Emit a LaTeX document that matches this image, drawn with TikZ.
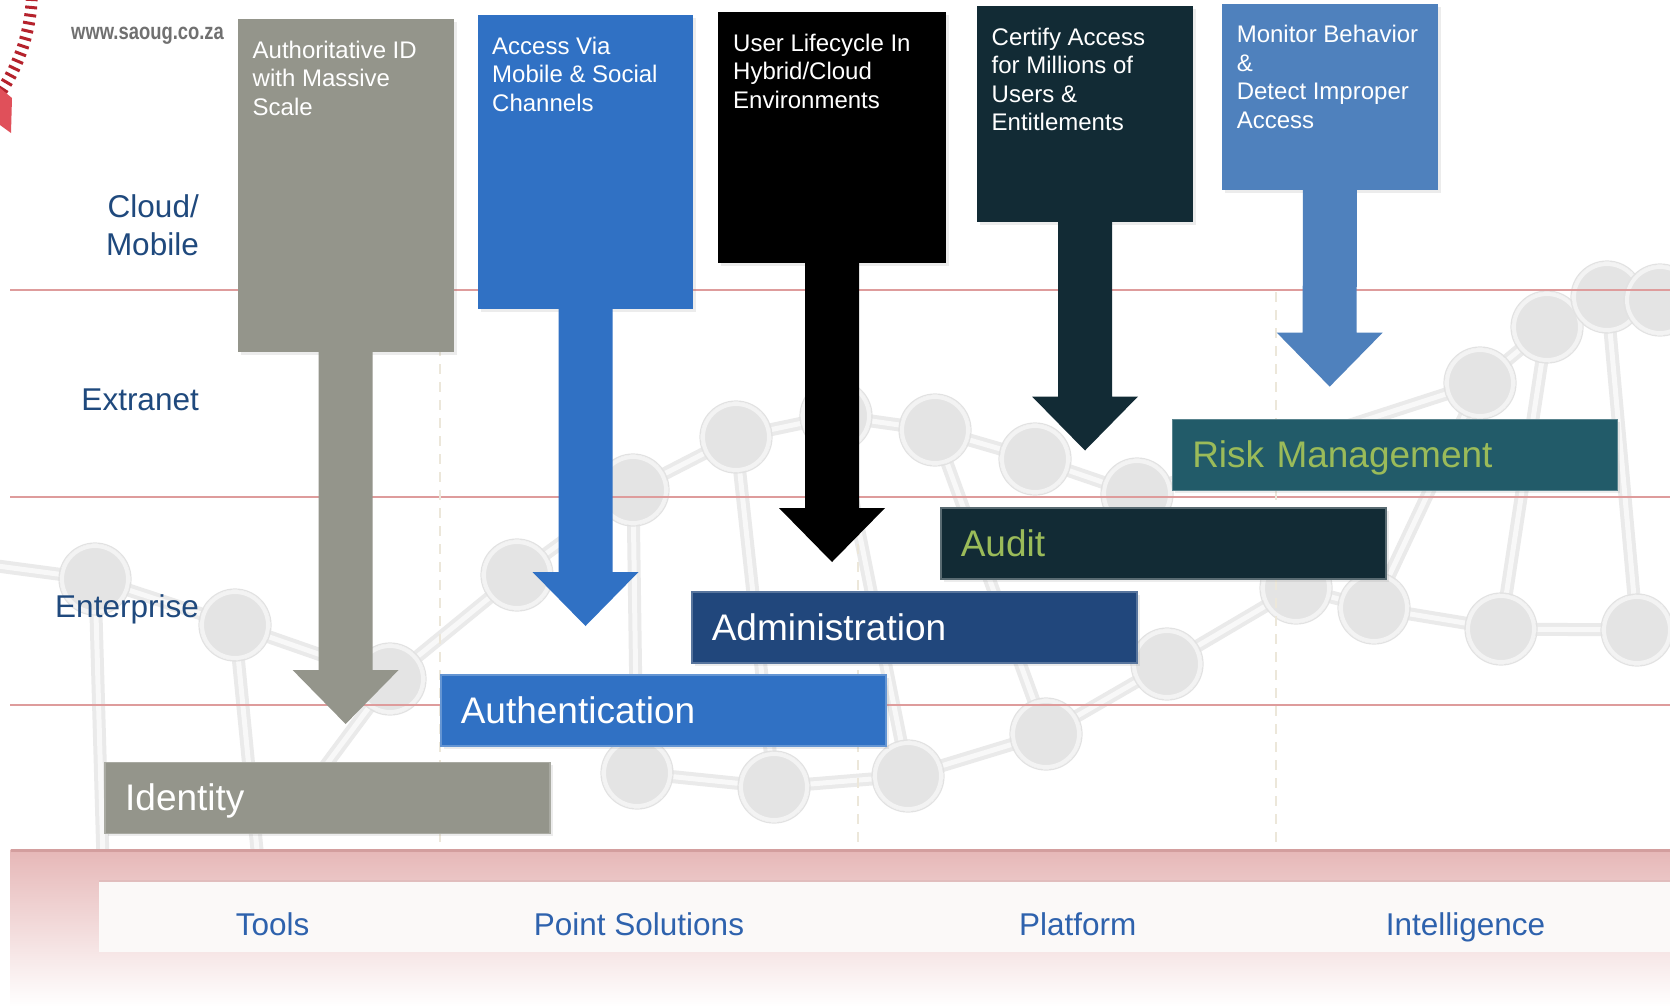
\documentclass[tikz,border=0pt]{standalone}
\usepackage{fontspec}
\usepackage{graphicx}
\setmainfont{Liberation Sans}
\usetikzlibrary{calc,shadows}
\definecolor{cgray}{HTML}{94958B}
\definecolor{cblue}{HTML}{3071C4}
\definecolor{cteal}{HTML}{122B35}
\definecolor{csteel}{HTML}{4F81BD}
\definecolor{cadmin}{HTML}{21477C}
\definecolor{crisk}{HTML}{225B69}
\definecolor{cgreen}{HTML}{9BBB59}
\definecolor{lbl}{HTML}{1F497D}
\definecolor{botlbl}{HTML}{2E62AD}
\definecolor{redline}{HTML}{DE9C9C}
\definecolor{logored}{HTML}{B5222C}
\definecolor{logolight}{HTML}{E0505A}
\definecolor{wwwgray}{HTML}{707070}
\definecolor{bondout}{HTML}{EAEAEA}
\definecolor{bondin}{HTML}{F8F8F8}
\definecolor{atomfill}{HTML}{E4E4E4}
\definecolor{atomrim}{HTML}{F3F3F3}
\definecolor{atomedge}{HTML}{E2E2E2}
\definecolor{dashcol}{HTML}{ECE7DA}
\definecolor{bandtop}{HTML}{E6B7B7}
\definecolor{bandmid}{HTML}{F1D6D6}
\definecolor{bandedge}{HTML}{D39E9E}
\definecolor{innerband}{HTML}{FBF9F8}
\newcommand{\blkarrow}[3]{%
  \fill[#1] ($(#2.south)+(-27,-1)$) -- ($(#3)+(-27,-54)$) -- ($(#3)+(-53,-54)$) -- (#3)
    -- ($(#3)+(53,-54)$) -- ($(#3)+(27,-54)$) -- ($(#2.south)+(27,-1)$) -- cycle;}
\begin{document}
\begin{tikzpicture}[x=1pt,y=-1pt,
  calloutbox/.style={rectangle, inner sep=0pt, anchor=north west, draw=none,
     drop shadow={opacity=0.15, shadow xshift=3pt, shadow yshift=-3pt}},
  boxtext/.style={anchor=north west, inner sep=0pt, align=left, text=white,
     font=\fontsize{24}{28.6}\selectfont},
  barbox/.style={rectangle, anchor=north west, minimum width=445pt, minimum height=71pt,
     text width=405pt, inner xsep=20pt, inner ysep=0pt, align=left, line width=1.5pt,
     font=\fontsize{37}{40}\selectfont, text height=28pt, text depth=2pt,
     drop shadow={opacity=0.15, shadow xshift=3pt, shadow yshift=-3pt}},
  sidelabel/.style={anchor=base east, inner sep=0pt, text=lbl, font=\fontsize{31.5}{38.5}\selectfont},
  bottomlabel/.style={anchor=base, inner sep=0pt, text=botlbl, font=\fontsize{31.5}{36}\selectfont},
  bondouter/.style={draw=bondout, line width=13pt},
  bondinner/.style={draw=bondin, line width=5pt},
  redrule/.style={draw=redline, line width=2.7pt},
  vdash/.style={draw=dashcol, line width=1.5pt, dash pattern=on 10pt off 8pt}
]
\useasboundingbox (0,0) rectangle (1670,1007);
\fill[white] (0,0) rectangle (1670,1007);

% ---------- background molecule ----------
\coordinate (a1) at (95,579);
\coordinate (a2) at (235,625);
\coordinate (a3) at (390,679);
\coordinate (a4) at (517,575);
\coordinate (a5) at (633,490);
\coordinate (a6) at (736,437);
\coordinate (a7) at (836,416);
\coordinate (a8) at (935,430);
\coordinate (a9) at (1035,459);
\coordinate (a10) at (1137,494);
\coordinate (a11) at (1167,664);
\coordinate (a12) at (1046,734);
\coordinate (a13) at (908,776);
\coordinate (a14) at (774,787);
\coordinate (a15) at (637,773);
\coordinate (a16) at (1296,588);
\coordinate (a17) at (1374,608);
\coordinate (a18) at (1501,629);
\coordinate (a19) at (1637,630);
\coordinate (a20) at (1480,383);
\coordinate (a21) at (1547,327);
\coordinate (a22) at (1607,297);
\coordinate (a23) at (1660,300);
\coordinate (e1) at (-10,565);
\coordinate (e2) at (103,860);
\coordinate (e3) at (258,860);
\coordinate (e4) at (300,800);
\coordinate (e5) at (1690,640);
\foreach \s in {bondouter,bondinner}{
  \foreach \p/\q in {e1/a1,a1/a2,a2/a3,a3/a4,a4/a5,a5/a6,a6/a7,a7/a8,a8/a9,a9/a10,
      a1/e2,a2/e3,a3/e4,a5/a15,a6/a14,a7/a13,a8/a12,a15/a14,a14/a13,a13/a12,a12/a11,
      a11/a16,a16/a17,a17/a18,a18/a19,a19/e5,a17/a20,a20/a21,a21/a22,a22/a23,
      a21/a18,a22/a19,a10/a20}
    \draw[\s] (\p) -- (\q);
}
\foreach \n in {a1,a2,a3,a4,a5,a6,a7,a8,a9,a10,a11,a12,a13,a14,a15,a16,a17,a18,a19,a20,a21,a22,a23}{
  \fill[atomfill] (\n) circle (35);
  \draw[atomrim, line width=4pt] (\n) circle (33);
  \draw[atomedge, line width=1.2pt] (\n) circle (36);
}

% ---------- grid lines ----------
\foreach \yy in {290,497,705}
  \draw[redrule] (10,\yy) -- (1670,\yy);
\foreach \xx in {440,858,1276}
  \draw[vdash] (\xx,292) -- (\xx,849);

% ---------- logo fragment and web address ----------
\foreach \a in {3,5.5,...,34}
  \draw[logored, line width=3pt] (-150,-10) ++(\a:176) -- ++(\a:12);
\fill[logolight] (0,88) -- (12,98) -- (11,133) -- (0,125) -- cycle;
\node[anchor=base west, inner sep=0pt, text=wwwgray, font=\bfseries\fontsize{23}{23}\selectfont]
  (www) at (71,39.3) {\scalebox{0.8}[1]{www.saoug.co.za}};

% ---------- callout boxes ----------
\node[calloutbox, fill=cgray, minimum width=216pt, minimum height=332.5pt] (b1) at (237.5,19) {};
\node[calloutbox, fill=cblue, minimum width=215pt, minimum height=294pt] (b2) at (478,15) {};
\node[calloutbox, fill=black, minimum width=228pt, minimum height=251pt] (b3) at (718,12) {};
\node[calloutbox, fill=cteal, minimum width=216pt, minimum height=215.5pt] (b4) at (977,6) {};
\node[calloutbox, fill=csteel, minimum width=216pt, minimum height=185.6pt] (b5) at (1221.6,4) {};

\node[boxtext] (t1txt) at ($(b1.north west)+(15,21.5)$) {Authoritative ID\\with Massive\\Scale};
\node[boxtext] (t2txt) at ($(b2.north west)+(14,21.5)$) {Access Via\\Mobile \& Social\\Channels};
\node[boxtext] (t3txt) at ($(b3.north west)+(15,21.5)$) {User Lifecycle In\\Hybrid/Cloud\\Environments};
\node[boxtext] (t4txt) at ($(b4.north west)+(14.5,21.5)$) {Certify Access\\for Millions of\\Users \&\\Entitlements};
\node[boxtext] (t5txt) at ($(b5.north west)+(15,21)$) {Monitor Behavior\\\&\\Detect Improper\\Access};

% ---------- block arrows ----------
\coordinate (tip1) at (345.6,724);
\coordinate (tip2) at (585.5,626);
\coordinate (tip3) at (832,562);
\coordinate (tip4) at (1085,450.5);
\coordinate (tip5) at (1329.7,386.6);
\blkarrow{cgray}{b1}{tip1}
\blkarrow{cblue}{b2}{tip2}
\blkarrow{black}{b3}{tip3}
\blkarrow{cteal}{b4}{tip4}
\blkarrow{csteel}{b5}{tip5}

% ---------- capability bars ----------
\node[barbox, fill=cgray, draw=cgray!80!white, text=white] (identity) at (104.4,761.5) {Identity};
\node[barbox, fill=cblue, draw=cblue!75!white, text=white] (authn) at (440,674) {Authentication};
\node[barbox, fill=cadmin, draw=cadmin!75!white, text=white] (admin) at (691,591) {Administration};
\node[barbox, fill=cteal, draw=cteal!70!white, text=cgreen] (audit) at (940,507) {Audit};
\node[barbox, fill=crisk, draw=crisk!75!white, text=cgreen] (risk) at (1171.5,418.6) {Risk Management};

% ---------- side labels ----------
\node[sidelabel] (cloud) at (199,217) {Cloud/};
\node[sidelabel] (mobile) at (199,255.5) {Mobile};
\node[sidelabel] (extranet) at (199,410) {Extranet};
\node[sidelabel] (enterprise) at (199,617.5) {Enterprise};

% ---------- bottom band ----------
\shade[top color=bandtop, middle color=bandmid, bottom color=white] (10.6,849) rectangle (1670,1007);
\fill[bandedge] (10.6,849) rectangle (1670,852);
\fill[black, opacity=0.04] (99,880) rectangle (1670,884);
\fill[innerband] (99,882) rectangle (1670,952);
\node[bottomlabel] (tools) at (272.6,935.5) {Tools};
\node[bottomlabel] (point) at (639,935.5) {Point Solutions};
\node[bottomlabel] (platform) at (1077.8,935.5) {Platform};
\node[bottomlabel] (intel) at (1465.5,935.5) {Intelligence};
\end{tikzpicture}
\end{document}
